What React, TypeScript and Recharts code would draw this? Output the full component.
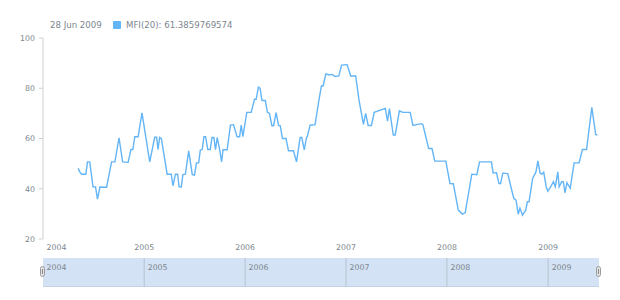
import React from 'react';
import { LineChart, Line, XAxis, YAxis } from 'recharts';

const dates: string[] = [
  '2004-05-07','2004-05-14','2004-05-20','2004-06-04','2004-06-10','2004-06-18','2004-06-30','2004-07-09','2004-07-16','2004-07-25',
  '2004-08-18','2004-09-05','2004-09-17','2004-10-02','2004-10-15','2004-11-04','2004-11-14','2004-11-21','2004-11-28','2004-12-10',
  '2004-12-24',
  '2005-01-21','2005-02-08','2005-02-15','2005-02-20','2005-02-26','2005-03-04','2005-03-25','2005-04-09','2005-04-15','2005-04-24',
  '2005-05-02','2005-05-07','2005-05-15','2005-05-21','2005-05-30','2005-06-11','2005-06-24','2005-07-02','2005-07-09','2005-07-17',
  '2005-07-23','2005-07-30','2005-08-05','2005-08-11','2005-08-19','2005-08-28','2005-09-03','2005-09-10','2005-09-16','2005-09-22',
  '2005-10-01','2005-10-08','2005-10-13','2005-10-28','2005-11-09','2005-11-20','2005-12-03','2005-12-12','2005-12-18','2005-12-24',
  '2006-01-07','2006-01-23','2006-02-04','2006-02-10','2006-02-18','2006-02-24','2006-03-03','2006-03-15','2006-03-23','2006-03-30',
  '2006-04-08','2006-04-14','2006-04-23','2006-05-02','2006-05-08','2006-05-16','2006-05-29','2006-06-07','2006-06-25','2006-07-06',
  '2006-07-19','2006-07-25','2006-08-03','2006-08-11','2006-08-14','2006-08-24','2006-09-11','2006-09-25','2006-10-04','2006-10-10',
  '2006-10-20','2006-11-01','2006-11-12','2006-11-22','2006-12-06','2006-12-16',
  '2007-01-05','2007-01-18','2007-02-05','2007-02-17','2007-03-05','2007-03-13','2007-03-22','2007-04-03','2007-04-13','2007-05-23',
  '2007-05-31','2007-06-07','2007-06-21','2007-06-28','2007-07-13','2007-07-25','2007-08-21','2007-08-31','2007-09-30','2007-10-06',
  '2007-10-16','2007-10-27','2007-11-08','2007-11-18','2007-12-28',
  '2008-01-12','2008-01-24','2008-02-11','2008-02-26','2008-03-07','2008-03-31','2008-04-18','2008-04-28','2008-06-10','2008-06-16',
  '2008-06-28','2008-07-07','2008-07-13','2008-07-21','2008-08-08','2008-08-18','2008-08-30','2008-09-07','2008-09-15','2008-09-21',
  '2008-09-30','2008-10-12','2008-10-18','2008-10-24','2008-11-06','2008-11-18','2008-11-25','2008-12-03','2008-12-10','2008-12-16',
  '2008-12-25','2008-12-31',
  '2009-01-11','2009-01-20','2009-01-27','2009-02-05','2009-02-10','2009-02-19','2009-02-25','2009-03-03','2009-03-10','2009-03-22',
  '2009-04-05','2009-04-23','2009-05-05','2009-05-20','2009-06-08','2009-06-22','2009-06-28',
];

const mfi: number[] = [
  48.1,46.5,45.8,45.8,50.7,50.7,40.8,40.7,35.9,40.7,
  40.6,50.7,50.7,60.3,50.7,50.5,55.6,55.6,60.7,60.7,
  70.2,
  50.7,60.5,60.5,55.7,60.4,60.0,45.8,45.8,41.2,45.8,
  45.8,40.8,40.6,45.6,45.8,55.1,45.6,45.4,50.3,50.3,
  55.4,55.6,60.7,60.7,55.6,55.6,60.4,60.4,55.6,60.4,
  55.6,50.7,55.5,55.5,65.3,65.5,60.7,60.7,65.3,60.7,
  70.4,70.4,75.6,75.6,80.4,80.0,75.1,75.1,70.4,70.0,
  65.1,65.1,70.3,65.2,65.1,60.0,60.0,55.1,55.1,50.7,
  60.4,60.4,55.5,60.4,60.7,65.3,65.5,75.3,80.9,80.9,
  85.7,85.3,85.5,84.7,84.9,89.2,
  89.4,84.9,84.9,75.3,65.6,70.0,65.2,65.2,70.4,72.0,
  66.9,71.9,61.4,61.4,71.0,70.4,70.4,65.2,65.9,65.5,
  61.0,56.0,56.0,51.0,51.0,
  42.1,42.0,31.5,29.9,30.4,45.8,45.6,50.7,50.7,46.3,
  46.4,42.1,42.0,46.2,46.0,41.4,36.1,35.5,29.8,32.3,
  29.5,31.5,34.8,34.8,44.1,46.7,51.1,46.2,45.8,46.6,
  40.8,39.0,
  40.9,42.8,40.8,46.7,40.8,42.8,42.8,38.4,42.4,40.2,
  50.3,50.3,55.6,55.6,72.4,61.6,61.3859769574,
];

const yearTicks: string[] = ['2004-01-01','2005-01-01','2006-01-01','2007-01-01','2008-01-01','2009-01-01'];
const yTicks: number[] = [20, 40, 60, 80, 100];
const xDomain: string[] = ['2004-01-01', '2009-07-04'];
const seriesName = 'MFI(20)';
const monthNames = ['Jan','Feb','Mar','Apr','May','Jun','Jul','Aug','Sep','Oct','Nov','Dec'];

const toT = (s: string) => Date.parse(s + 'T00:00:00Z');
const data = dates.map((d, i) => ({ t: toT(d), v: mfi[i] }));
const yearTicksT = yearTicks.map(toT);
const domainT = xDomain.map(toT);

const FONT = '"DejaVu Sans", Verdana, sans-serif';
const TEXT = '#7c868e';
const LINE = '#64b5f6';

const lastDate = new Date(toT(dates[dates.length - 1]));
const headerDate = `${lastDate.getUTCDate()} ${monthNames[lastDate.getUTCMonth()]} ${lastDate.getUTCFullYear()}`;
const headerValue = `${seriesName}: ${mfi[mfi.length - 1]}`;

const XTick = (props: any) => {
  const { x, y, payload, index } = props;
  const yr = new Date(payload.value).getUTCFullYear();
  const first = index === 0;
  return (
    <text x={first ? x + 3.5 : x} y={y} dy={3} textAnchor={first ? 'start' : 'middle'} fill={TEXT} fontSize={7.8} fontFamily={FONT}>
      {yr}
    </text>
  );
};

// scroller tick: a divider line across the band plus a left-aligned year label
const ScrollTick = (props: any) => {
  const { x, y, payload, index } = props;
  const yr = new Date(payload.value).getUTCFullYear();
  return (
    <g>
      {index > 0 && <line x1={x} x2={x} y1={y - 40} y2={y + 40} stroke="#b9c3ce" strokeWidth={1} />}
      <text x={x + 3.5} y={y} dy={-8} textAnchor="start" fill={TEXT} fontSize={7.8} fontFamily={FONT}>
        {yr}
      </text>
    </g>
  );
};

const Handle = ({ left }: { left: number }) => (
  <div style={{ position: 'absolute', left: left - 3, top: 266, width: 5, height: 11, borderRadius: 3, background: '#e4e4e4', border: '1px solid #9a9a9a', boxSizing: 'border-box' }}>
    <div style={{ position: 'absolute', left: 1, top: 2, width: 1, height: 5, background: '#8a8a8a' }} />
  </div>
);

export default function App() {
  return (
    <div style={{ position: 'absolute', left: 0, top: 0, width: 620, height: 300, fontFamily: FONT, background: '#fff' }}>
      <div style={{ position: 'absolute', left: 50, top: 19, fontSize: 8.6, color: TEXT, whiteSpace: 'nowrap', lineHeight: '12px' }}>{headerDate}</div>
      <div style={{ position: 'absolute', left: 113, top: 21, width: 8, height: 8, background: LINE, borderRadius: 1 }} />
      <div style={{ position: 'absolute', left: 126, top: 19, fontSize: 8.6, color: TEXT, whiteSpace: 'nowrap', lineHeight: '12px' }}>{headerValue}</div>

      <div style={{ position: 'absolute', left: 0, top: 0 }}>
        <LineChart width={620} height={258} data={data} margin={{ top: 38, right: 21, left: 0, bottom: 0 }}>
          <XAxis dataKey="t" type="number" scale="time" domain={domainT} ticks={yearTicksT} interval={0}
            axisLine={false} tickLine={false} height={19} tick={<XTick />} allowDataOverflow />
          <YAxis type="number" domain={[20, 100]} ticks={yTicks} interval={0} width={43}
            axisLine={{ stroke: '#cfcfcf' }} tickLine={{ stroke: '#cfcfcf' }} tickSize={4} tickMargin={4}
            tick={{ fill: TEXT, fontSize: 7.8, fontFamily: FONT }} />
          <Line dataKey="v" type="linear" stroke={LINE} strokeWidth={1.4} dot={false} isAnimationActive={false} />
        </LineChart>
      </div>

      <div style={{ position: 'absolute', left: 43, top: 258, width: 556, height: 29, background: '#d3e2f4', borderBottom: '1px solid #c4d3e4', boxSizing: 'border-box' }} />
      <div style={{ position: 'absolute', left: 0, top: 258 }}>
        <LineChart width={620} height={29} data={data} margin={{ top: 10, right: 21, left: 43, bottom: 0 }}>
          <XAxis dataKey="t" type="number" scale="time" domain={domainT} ticks={yearTicksT} interval={0}
            orientation="top" height={10} tickSize={0} tickMargin={0} axisLine={false} tickLine={false}
            tick={<ScrollTick />} allowDataOverflow />
          <YAxis hide domain={[20, 100]} width={0} />
        </LineChart>
      </div>
      <Handle left={43} />
      <Handle left={599} />
    </div>
  );
}
